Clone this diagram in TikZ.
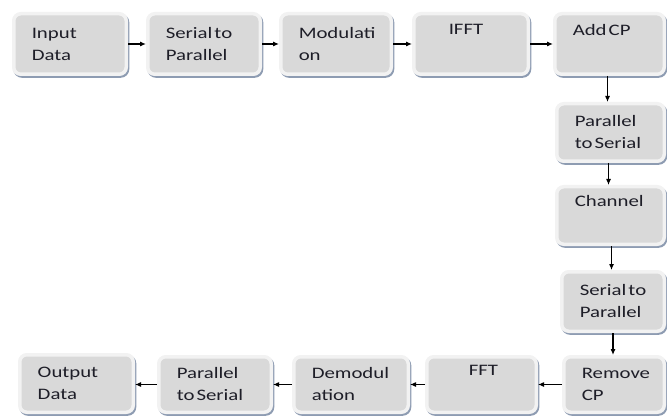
\documentclass[tikz,border=0pt]{standalone}
\usepackage{fontspec}
\setmainfont{Carlito}
\usepackage{graphicx}
\usetikzlibrary{arrows.meta,calc}
\definecolor{boxgray}{HTML}{D9D9D9}
\definecolor{boxrim}{HTML}{F2F2F2}
\definecolor{shadowc}{HTML}{8E9CB2}
\definecolor{txt}{HTML}{1E1E28}
\newcommand\wl[1]{\scalebox{1.3}[1]{#1}}
\newcommand\ns{\kern1.6pt}
\tikzset{
  blk/.style={rectangle, rounded corners=7pt, fill=boxgray, draw=boxrim, line width=3.5pt,
    preaction={draw=shadowc, line width=3.5pt, transform canvas={shift={(1.3pt,-1.8pt)}}},
    inner xsep=18pt, inner ysep=0pt, align=left, text=txt,
    font=\fontsize{16}{22}\selectfont},
  arr/.style={-{Latex[length=6pt,width=5pt]}, line width=1.1pt, black},
}
% box: name, x1, y1, x2, y2, text
\newcommand\blkbox[6]{%
  \node[blk, minimum width={#4-#2-3.5}, minimum height={#5-#3-3.5}, text width={#4-#2-3.5-36},
        anchor=center] (#1) at ({(#2+#4)/2},{(#3+#5)/2}) {#6};}
\begin{document}
\begin{tikzpicture}[x=1pt,y=-1pt]
\useasboundingbox (0,0) rectangle (667,417);
\blkbox{in}{12}{12}{128}{76}{\wl{Input}\\\wl{Data}}
\blkbox{sp}{146}{12}{262}{76}{\wl{Serial\ns to}\\\wl{Parallel}}
\blkbox{mod}{279}{12}{393}{76}{\wl{Modulati}\\\wl{on}}
\blkbox{ifft}{412}{12}{530}{76}{\hspace*{17pt}\wl{IFFT}\\\strut}
\blkbox{acp}{553}{12}{666}{76}{\wl{Add\ns CP}\\\strut}
\blkbox{ps}{555}{102}{666}{163}{\wl{Parallel}\\\wl{to\ns Serial}}
\blkbox{ch}{555}{185}{666}{246}{\wl{Channel}\\\strut}
\blkbox{sp2}{560}{270}{666}{333}{\wl{Serial\ns to}\\\wl{Parallel}}
\blkbox{rcp}{562}{355}{666}{414}{\wl{Remove}\\\wl{CP}}
\blkbox{fft}{425}{355}{538}{414}{\hspace*{24pt}\wl{FFT}\\\strut}
\blkbox{dem}{292}{355}{410}{414}{\wl{Demodul}\\\wl{ation}}
\blkbox{ps2}{157}{355}{273}{414}{\wl{Parallel}\\\wl{to\ns Serial}}
\blkbox{out}{18}{353}{135}{414}{\wl{Output}\\\wl{Data}}

\coordinate (v1) at ([xshift=-2pt]acp.south);
\coordinate (v2) at ([xshift=-2pt]ps.south);
\coordinate (v3) at ([xshift=1pt]ch.south);
\coordinate (v4) at (sp2.south);

\draw[arr] (in.east) -- (sp.west);
\draw[arr] (sp.east) -- (mod.west);
\draw[arr] (mod.east) -- (ifft.west);
\draw[arr] (ifft.east) -- (acp.west);
\draw[arr] (v1) -- (v1 |- ps.north);
\draw[arr] (v2) -- (v2 |- ch.north);
\draw[arr] (v3) -- (v3 |- sp2.north);
\draw[arr] (v4) -- (v4 |- rcp.north);
\draw[arr] (rcp.west) -- (fft.east);
\draw[arr] (fft.west) -- (dem.east);
\draw[arr] (dem.west) -- (ps2.east);
\draw[arr] (ps2.west) -- (out.east |- ps2.west);
\end{tikzpicture}
\end{document}
